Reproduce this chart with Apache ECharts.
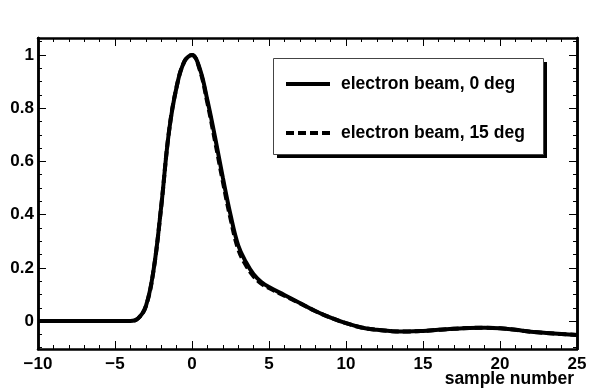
<!DOCTYPE html>
<html><head><meta charset="utf-8">
<script src="https://cdn.jsdelivr.net/npm/echarts@6/dist/echarts.min.js"></script>
<style>html,body{margin:0;padding:0;background:#fff}#c{width:598px;height:388px}</style>
</head><body><div id="c"></div>
<script>
const sampleX = [-10,-9,-8,-7,-6,-5,-4,-3.5,-3,-2.5,-2,-1.5,-1,-0.5,0,0.5,1,1.5,2,2.5,3,3.5,4,4.5,5,6,7,8,9,10,11,12,13,14,15,16,17,18,19,20,21,22,23,24,25];
const beam0deg = [0,0,0,0,0,0,0,0.01,0.055,0.19,0.43,0.71,0.88,0.975,1.0,0.95,0.83,0.69,0.54,0.40,0.285,0.222,0.176,0.147,0.128,0.098,0.068,0.038,0.013,-0.008,-0.024,-0.033,-0.038,-0.039,-0.037,-0.033,-0.029,-0.026,-0.025,-0.027,-0.033,-0.040,-0.045,-0.049,-0.052];
const beam15deg = [0,0,0,0,0,0,0,0.01,0.055,0.19,0.43,0.71,0.88,0.975,1.0,0.945,0.82,0.675,0.525,0.385,0.27,0.21,0.168,0.141,0.124,0.095,0.067,0.038,0.013,-0.008,-0.024,-0.033,-0.038,-0.039,-0.037,-0.033,-0.029,-0.026,-0.025,-0.027,-0.033,-0.040,-0.045,-0.049,-0.052];
const seriesNames = ['electron beam, 0 deg', 'electron beam, 15 deg'];
const yMajorTicks = [0, 0.2, 0.4, 0.6, 0.8, 1];
const yMinorTicks = [-0.1, -0.05, 0.05, 0.1, 0.15, 0.25, 0.3, 0.35, 0.45, 0.5, 0.55, 0.65, 0.7, 0.75, 0.85, 0.9, 0.95, 1.05];
const xAxisTitle = 'sample number';

const FONT = "'Liberation Sans', Arial, Helvetica, sans-serif";
const chart = echarts.init(document.getElementById('c'), null, {renderer: 'canvas'});

const X_MIN = -10, X_MAX = 25, Y_MIN = -0.105, Y_MAX = 1.064;
const tickLine = {show: true, inside: true, length: 8, lineStyle: {color: '#000', width: 1}};
const minorLine = {show: true, splitNumber: 5, length: 4, lineStyle: {color: '#000', width: 1}};
const axisLine = {show: true, onZero: false, lineStyle: {color: '#000', width: 2.5}};

function xAx(pos, labels) {
  return {
    type: 'value', position: pos, min: X_MIN, max: X_MAX, interval: 5,
    axisLine: axisLine, axisTick: tickLine, minorTick: minorLine,
    splitLine: {show: false},
    axisLabel: labels ? {show: true, color: '#000', fontFamily: FONT, fontWeight: 'bold', fontSize: 17, margin: 7,
      formatter: v => String(v).replace('-', '\u2212')} : {show: false}
  };
}
function yAx(pos, values, len, labels) {
  return {
    type: 'value', position: pos, min: Y_MIN, max: Y_MAX,
    axisLine: axisLine,
    axisTick: {show: true, inside: true, length: len, customValues: values, lineStyle: {color: '#000', width: 1}},
    splitLine: {show: false},
    axisLabel: labels ? {show: true, customValues: yMajorTicks, color: '#000', fontFamily: FONT, fontWeight: 'bold', fontSize: 17, margin: 4,
      formatter: v => String(v)} : {show: false, customValues: values}
  };
}

chart.setOption({
  animation: false,
  backgroundColor: '#fff',
  grid: {left: 38, right: 21, top: 38, bottom: 39, show: false},
  xAxis: [xAx('bottom', true), xAx('top', false)],
  yAxis: [yAx('left', yMajorTicks, 8, true), yAx('left', yMinorTicks, 4, false),
          yAx('right', yMajorTicks, 8, false), yAx('right', yMinorTicks, 4, false)],
  legend: {
    show: true, orient: 'vertical', left: 273, top: 58, z: 10,
    padding: [17, 19, 14, 11], itemGap: 31, itemWidth: 44, itemHeight: 17,
    backgroundColor: 'transparent', borderWidth: 0,
    lineStyle: {width: 4},
    itemStyle: {color: 'rgba(0,0,0,0)', borderWidth: 0, opacity: 0},
    textStyle: {color: '#000', fontFamily: FONT, fontWeight: 'bold', fontSize: 17.5, lineHeight: 17, padding: [0, 0, 0, 6]},
    data: seriesNames
  },
  graphic: [
    {type: 'rect', left: 277, top: 62, z: 5, shape: {width: 270, height: 96}, style: {fill: '#000'}},
    {type: 'rect', left: 273, top: 58, z: 6, shape: {width: 270, height: 96}, style: {fill: '#fff', stroke: '#444', lineWidth: 1}},
    {type: 'text', right: 24, top: 370, style: {text: xAxisTitle, fill: '#000', font: "bold 17.5px " + FONT}}
  ],
  series: [
    {name: seriesNames[0], type: 'line', xAxisIndex: 0, yAxisIndex: 0, symbol: 'none', smooth: 0.4,
     lineStyle: {color: '#000', width: 4, type: 'solid'}, itemStyle: {color: '#000'},
     data: sampleX.map((x, i) => [x, beam0deg[i]])},
    {name: seriesNames[1], type: 'line', xAxisIndex: 0, yAxisIndex: 0, symbol: 'none', smooth: 0.4,
     lineStyle: {color: '#000', width: 4, type: [8, 4]}, itemStyle: {color: '#000'},
     data: sampleX.map((x, i) => [x, beam15deg[i]])}
  ]
});
</script></body></html>
